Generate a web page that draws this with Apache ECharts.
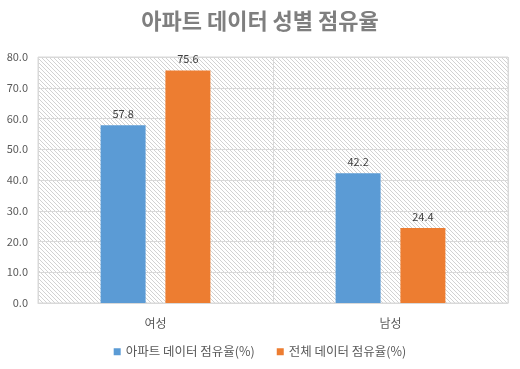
<!DOCTYPE html>
<html><head><meta charset="utf-8">
<script src="https://cdn.jsdelivr.net/npm/echarts@6/dist/echarts.min.js"></script>
<style>html,body{margin:0;padding:0;background:#fff}#c{width:520px;height:369px}</style>
</head><body><div id="c"></div>
<script>
const categories = ['여성', '남성'];
const seriesNames = ['아파트 데이터 점유율(%)', '전체 데이터 점유율(%)'];
const aptShare = [57.8, 42.2];
const totalShare = [75.6, 24.4];
const titleText = '아파트 데이터 성별 점유율';

const tile = document.createElement('canvas');
tile.width = 8; tile.height = 8;
const tctx = tile.getContext('2d');
tctx.fillStyle = '#ffffff';
tctx.fillRect(0, 0, 8, 8);
for (let y = 0; y < 8; y++) {
  for (let x = 0; x < 8; x++) {
    if (((x - y) % 4 + 4) % 4 === 0) {
      tctx.fillStyle = ((x + y) % 2 === 0) ? '#d2d2d2' : '#ededed';
      tctx.fillRect(x, y, 1, 1);
    }
  }
}

const font = '"Noto Sans CJK KR", "Noto Sans", sans-serif';
const chart = echarts.init(document.getElementById('c'), null, {renderer: 'canvas'});
const labelOpt = {show: true, position: 'top', color: '#404040', fontSize: 11, fontFamily: font, formatter: p => p.value.toFixed(1), distance: 6};
chart.setOption({
  animation: false,
  backgroundColor: '#ffffff',
  title: {text: titleText, left: 'center', top: 5, textStyle: {color: '#7f7f7f', fontSize: 22, fontWeight: 'bold', fontFamily: font}},
  legend: {bottom: 6, left: 'center', itemWidth: 7, itemHeight: 7, itemGap: 22, icon: 'rect',
    textStyle: {color: '#595959', fontSize: 12.5, fontFamily: font}, data: seriesNames},
  grid: {left: 38, right: 12, top: 57, bottom: 66, show: true, borderColor: '#d9d9d9', borderWidth: 1,
    backgroundColor: {image: tile, repeat: 'repeat'}},
  xAxis: {type: 'category', data: categories,
    axisLine: {show: true, lineStyle: {color: '#d9d9d9'}}, axisTick: {show: false},
    splitLine: {show: true, lineStyle: {color: '#d9d9d9'}},
    axisLabel: {color: '#595959', fontSize: 12, fontFamily: font, margin: 14}},
  yAxis: {type: 'value', min: 0, max: 80, interval: 10,
    axisLine: {show: false}, axisTick: {show: false},
    splitLine: {lineStyle: {color: '#d9d9d9'}},
    axisLabel: {color: '#595959', fontSize: 11, fontFamily: font, formatter: v => v.toFixed(1), margin: 10}},
  series: [
    {name: seriesNames[0], type: 'bar', data: aptShare, barWidth: 45, barGap: '44%', itemStyle: {color: '#5b9bd5'}, label: labelOpt},
    {name: seriesNames[1], type: 'bar', data: totalShare, barWidth: 45, itemStyle: {color: '#ed7d31'}, label: labelOpt}
  ]
});
</script></body></html>
